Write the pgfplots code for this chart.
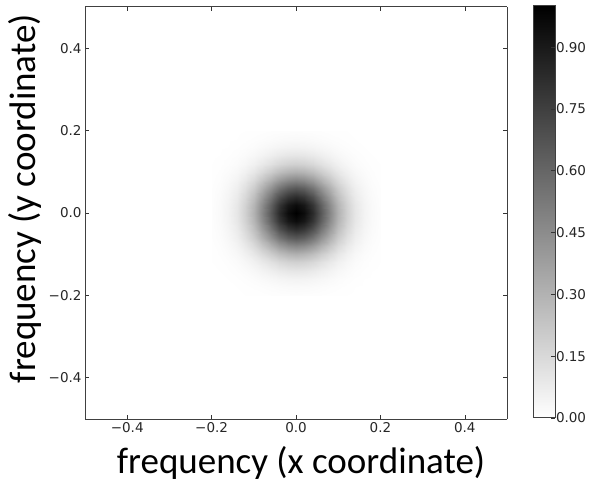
\documentclass[border=0pt]{standalone}
\usepackage{fontspec}
\setmainfont{DejaVu Sans}
\newfontfamily\labelfont{Carlito}
\usepackage{pgfplots}
\pgfplotsset{compat=1.18}
\begin{document}
\begin{tikzpicture}
\useasboundingbox (0,0) rectangle (596bp,482bp);
\begin{axis}[
  at={(85bp,63bp)}, anchor=south west,
  scale only axis, width=422bp, height=412bp,
  view={0}{90},
  xmin=-0.5,xmax=0.5,ymin=-0.5,ymax=0.5,
  xtick={-0.4,-0.2,0,0.2,0.4}, xticklabels={−0.4,−0.2,0.0,0.2,0.4},
  ytick={-0.4,-0.2,0,0.2,0.4}, yticklabels={−0.4,−0.2,0.0,0.2,0.4},
  tick align=inside, major tick length=4bp,
  tick style={black!80, line width=0.6bp},
  axis line style={black!75, line width=1bp},
  ticklabel style={font=\fontsize{13.5bp}{16bp}\selectfont, text=black!85},
  xlabel={frequency (x coordinate)}, ylabel={frequency (y coordinate)},
  label style={font=\labelfont\fontsize{37bp}{44bp}\selectfont},
  xlabel style={at={(ticklabel cs:0.512)}, yshift=-7bp},
  ylabel style={at={(ticklabel cs:0.535)}},
  colormap={grayr}{color=(white) color=(black)},
  point meta min=0, point meta max=1,
  colorbar,
  colorbar shift/.style={},
  colorbar/width=22bp,
  colorbar style={
    at={(parent axis.north east)}, anchor=north west, xshift=26bp, yshift=1bp,
    scale only axis, width=22bp, height=412bp,
    ytick={0,0.15,0.3,0.45,0.6,0.75,0.9},
    yticklabels={0.00,0.15,0.30,0.45,0.60,0.75,0.90},
    tick align=inside, major tick length=4bp,
    ytick pos=right, yticklabel pos=right,
    axis line style={black!75, line width=1bp},
    ticklabel style={font=\fontsize{13.5bp}{16bp}\selectfont, text=black!85},
    yticklabel style={xshift=-2.5bp},
  },
]
\addplot3[surf, shader=interp, mesh/cols=21, mesh/rows=21] coordinates {
(-0.2,-0.2,0) (-0.18,-0.2,0) (-0.16,-0.2,0) (-0.14,-0.2,0.001) (-0.12,-0.2,0.002) (-0.1,-0.2,0.003) (-0.08,-0.2,0.004) (-0.06,-0.2,0.006) (-0.04,-0.2,0.007) (-0.02,-0.2,0.008) (0,-0.2,0.009) (0.02,-0.2,0.008) (0.04,-0.2,0.007) (0.06,-0.2,0.006) (0.08,-0.2,0.004) (0.1,-0.2,0.003) (0.12,-0.2,0.002) (0.14,-0.2,0.001) (0.16,-0.2,0) (0.18,-0.2,0) (0.2,-0.2,0)
(-0.2,-0.18,0) (-0.18,-0.18,0) (-0.16,-0.18,0.001) (-0.14,-0.18,0.002) (-0.12,-0.18,0.004) (-0.1,-0.18,0.007) (-0.08,-0.18,0.010) (-0.06,-0.18,0.014) (-0.04,-0.18,0.018) (-0.02,-0.18,0.021) (0,-0.18,0.022) (0.02,-0.18,0.021) (0.04,-0.18,0.018) (0.06,-0.18,0.014) (0.08,-0.18,0.010) (0.1,-0.18,0.007) (0.12,-0.18,0.004) (0.14,-0.18,0.002) (0.16,-0.18,0.001) (0.18,-0.18,0) (0.2,-0.18,0)
(-0.2,-0.16,0) (-0.18,-0.16,0.001) (-0.16,-0.16,0.002) (-0.14,-0.16,0.005) (-0.12,-0.16,0.009) (-0.1,-0.16,0.015) (-0.08,-0.16,0.023) (-0.06,-0.16,0.032) (-0.04,-0.16,0.040) (-0.02,-0.16,0.046) (0,-0.16,0.048) (0.02,-0.16,0.046) (0.04,-0.16,0.040) (0.06,-0.16,0.032) (0.08,-0.16,0.023) (0.1,-0.16,0.015) (0.12,-0.16,0.009) (0.14,-0.16,0.005) (0.16,-0.16,0.002) (0.18,-0.16,0.001) (0.2,-0.16,0)
(-0.2,-0.14,0.001) (-0.18,-0.14,0.002) (-0.16,-0.14,0.005) (-0.14,-0.14,0.010) (-0.12,-0.14,0.018) (-0.1,-0.14,0.030) (-0.08,-0.14,0.046) (-0.06,-0.14,0.064) (-0.04,-0.14,0.081) (-0.02,-0.14,0.094) (0,-0.14,0.098) (0.02,-0.14,0.094) (0.04,-0.14,0.081) (0.06,-0.14,0.064) (0.08,-0.14,0.046) (0.1,-0.14,0.030) (0.12,-0.14,0.018) (0.14,-0.14,0.010) (0.16,-0.14,0.005) (0.18,-0.14,0.002) (0.2,-0.14,0.001)
(-0.2,-0.12,0.002) (-0.18,-0.12,0.004) (-0.16,-0.12,0.009) (-0.14,-0.12,0.018) (-0.12,-0.12,0.033) (-0.1,-0.12,0.056) (-0.08,-0.12,0.085) (-0.06,-0.12,0.119) (-0.04,-0.12,0.151) (-0.02,-0.12,0.174) (0,-0.12,0.182) (0.02,-0.12,0.174) (0.04,-0.12,0.151) (0.06,-0.12,0.119) (0.08,-0.12,0.085) (0.1,-0.12,0.056) (0.12,-0.12,0.033) (0.14,-0.12,0.018) (0.16,-0.12,0.009) (0.18,-0.12,0.004) (0.2,-0.12,0.002)
(-0.2,-0.1,0.003) (-0.18,-0.1,0.007) (-0.16,-0.1,0.015) (-0.14,-0.1,0.030) (-0.12,-0.1,0.056) (-0.1,-0.1,0.094) (-0.08,-0.1,0.144) (-0.06,-0.1,0.200) (-0.04,-0.1,0.253) (-0.02,-0.1,0.292) (0,-0.1,0.306) (0.02,-0.1,0.292) (0.04,-0.1,0.253) (0.06,-0.1,0.200) (0.08,-0.1,0.144) (0.1,-0.1,0.094) (0.12,-0.1,0.056) (0.14,-0.1,0.030) (0.16,-0.1,0.015) (0.18,-0.1,0.007) (0.2,-0.1,0.003)
(-0.2,-0.08,0.004) (-0.18,-0.08,0.010) (-0.16,-0.08,0.023) (-0.14,-0.08,0.046) (-0.12,-0.08,0.085) (-0.1,-0.08,0.144) (-0.08,-0.08,0.220) (-0.06,-0.08,0.306) (-0.04,-0.08,0.388) (-0.02,-0.08,0.447) (0,-0.08,0.469) (0.02,-0.08,0.447) (0.04,-0.08,0.388) (0.06,-0.08,0.306) (0.08,-0.08,0.220) (0.1,-0.08,0.144) (0.12,-0.08,0.085) (0.14,-0.08,0.046) (0.16,-0.08,0.023) (0.18,-0.08,0.010) (0.2,-0.08,0.004)
(-0.2,-0.06,0.006) (-0.18,-0.06,0.014) (-0.16,-0.06,0.032) (-0.14,-0.06,0.064) (-0.12,-0.06,0.119) (-0.1,-0.06,0.200) (-0.08,-0.06,0.306) (-0.06,-0.06,0.427) (-0.04,-0.06,0.540) (-0.02,-0.06,0.623) (0,-0.06,0.653) (0.02,-0.06,0.623) (0.04,-0.06,0.540) (0.06,-0.06,0.427) (0.08,-0.06,0.306) (0.1,-0.06,0.200) (0.12,-0.06,0.119) (0.14,-0.06,0.064) (0.16,-0.06,0.032) (0.18,-0.06,0.014) (0.2,-0.06,0.006)
(-0.2,-0.04,0.007) (-0.18,-0.04,0.018) (-0.16,-0.04,0.040) (-0.14,-0.04,0.081) (-0.12,-0.04,0.151) (-0.1,-0.04,0.253) (-0.08,-0.04,0.388) (-0.06,-0.04,0.540) (-0.04,-0.04,0.685) (-0.02,-0.04,0.789) (0,-0.04,0.828) (0.02,-0.04,0.789) (0.04,-0.04,0.685) (0.06,-0.04,0.540) (0.08,-0.04,0.388) (0.1,-0.04,0.253) (0.12,-0.04,0.151) (0.14,-0.04,0.081) (0.16,-0.04,0.040) (0.18,-0.04,0.018) (0.2,-0.04,0.007)
(-0.2,-0.02,0.008) (-0.18,-0.02,0.021) (-0.16,-0.02,0.046) (-0.14,-0.02,0.094) (-0.12,-0.02,0.174) (-0.1,-0.02,0.292) (-0.08,-0.02,0.447) (-0.06,-0.02,0.623) (-0.04,-0.02,0.789) (-0.02,-0.02,0.910) (0,-0.02,0.954) (0.02,-0.02,0.910) (0.04,-0.02,0.789) (0.06,-0.02,0.623) (0.08,-0.02,0.447) (0.1,-0.02,0.292) (0.12,-0.02,0.174) (0.14,-0.02,0.094) (0.16,-0.02,0.046) (0.18,-0.02,0.021) (0.2,-0.02,0.008)
(-0.2,0,0.009) (-0.18,0,0.022) (-0.16,0,0.048) (-0.14,0,0.098) (-0.12,0,0.182) (-0.1,0,0.306) (-0.08,0,0.469) (-0.06,0,0.653) (-0.04,0,0.828) (-0.02,0,0.954) (0,0,1.000) (0.02,0,0.954) (0.04,0,0.828) (0.06,0,0.653) (0.08,0,0.469) (0.1,0,0.306) (0.12,0,0.182) (0.14,0,0.098) (0.16,0,0.048) (0.18,0,0.022) (0.2,0,0.009)
(-0.2,0.02,0.008) (-0.18,0.02,0.021) (-0.16,0.02,0.046) (-0.14,0.02,0.094) (-0.12,0.02,0.174) (-0.1,0.02,0.292) (-0.08,0.02,0.447) (-0.06,0.02,0.623) (-0.04,0.02,0.789) (-0.02,0.02,0.910) (0,0.02,0.954) (0.02,0.02,0.910) (0.04,0.02,0.789) (0.06,0.02,0.623) (0.08,0.02,0.447) (0.1,0.02,0.292) (0.12,0.02,0.174) (0.14,0.02,0.094) (0.16,0.02,0.046) (0.18,0.02,0.021) (0.2,0.02,0.008)
(-0.2,0.04,0.007) (-0.18,0.04,0.018) (-0.16,0.04,0.040) (-0.14,0.04,0.081) (-0.12,0.04,0.151) (-0.1,0.04,0.253) (-0.08,0.04,0.388) (-0.06,0.04,0.540) (-0.04,0.04,0.685) (-0.02,0.04,0.789) (0,0.04,0.828) (0.02,0.04,0.789) (0.04,0.04,0.685) (0.06,0.04,0.540) (0.08,0.04,0.388) (0.1,0.04,0.253) (0.12,0.04,0.151) (0.14,0.04,0.081) (0.16,0.04,0.040) (0.18,0.04,0.018) (0.2,0.04,0.007)
(-0.2,0.06,0.006) (-0.18,0.06,0.014) (-0.16,0.06,0.032) (-0.14,0.06,0.064) (-0.12,0.06,0.119) (-0.1,0.06,0.200) (-0.08,0.06,0.306) (-0.06,0.06,0.427) (-0.04,0.06,0.540) (-0.02,0.06,0.623) (0,0.06,0.653) (0.02,0.06,0.623) (0.04,0.06,0.540) (0.06,0.06,0.427) (0.08,0.06,0.306) (0.1,0.06,0.200) (0.12,0.06,0.119) (0.14,0.06,0.064) (0.16,0.06,0.032) (0.18,0.06,0.014) (0.2,0.06,0.006)
(-0.2,0.08,0.004) (-0.18,0.08,0.010) (-0.16,0.08,0.023) (-0.14,0.08,0.046) (-0.12,0.08,0.085) (-0.1,0.08,0.144) (-0.08,0.08,0.220) (-0.06,0.08,0.306) (-0.04,0.08,0.388) (-0.02,0.08,0.447) (0,0.08,0.469) (0.02,0.08,0.447) (0.04,0.08,0.388) (0.06,0.08,0.306) (0.08,0.08,0.220) (0.1,0.08,0.144) (0.12,0.08,0.085) (0.14,0.08,0.046) (0.16,0.08,0.023) (0.18,0.08,0.010) (0.2,0.08,0.004)
(-0.2,0.1,0.003) (-0.18,0.1,0.007) (-0.16,0.1,0.015) (-0.14,0.1,0.030) (-0.12,0.1,0.056) (-0.1,0.1,0.094) (-0.08,0.1,0.144) (-0.06,0.1,0.200) (-0.04,0.1,0.253) (-0.02,0.1,0.292) (0,0.1,0.306) (0.02,0.1,0.292) (0.04,0.1,0.253) (0.06,0.1,0.200) (0.08,0.1,0.144) (0.1,0.1,0.094) (0.12,0.1,0.056) (0.14,0.1,0.030) (0.16,0.1,0.015) (0.18,0.1,0.007) (0.2,0.1,0.003)
(-0.2,0.12,0.002) (-0.18,0.12,0.004) (-0.16,0.12,0.009) (-0.14,0.12,0.018) (-0.12,0.12,0.033) (-0.1,0.12,0.056) (-0.08,0.12,0.085) (-0.06,0.12,0.119) (-0.04,0.12,0.151) (-0.02,0.12,0.174) (0,0.12,0.182) (0.02,0.12,0.174) (0.04,0.12,0.151) (0.06,0.12,0.119) (0.08,0.12,0.085) (0.1,0.12,0.056) (0.12,0.12,0.033) (0.14,0.12,0.018) (0.16,0.12,0.009) (0.18,0.12,0.004) (0.2,0.12,0.002)
(-0.2,0.14,0.001) (-0.18,0.14,0.002) (-0.16,0.14,0.005) (-0.14,0.14,0.010) (-0.12,0.14,0.018) (-0.1,0.14,0.030) (-0.08,0.14,0.046) (-0.06,0.14,0.064) (-0.04,0.14,0.081) (-0.02,0.14,0.094) (0,0.14,0.098) (0.02,0.14,0.094) (0.04,0.14,0.081) (0.06,0.14,0.064) (0.08,0.14,0.046) (0.1,0.14,0.030) (0.12,0.14,0.018) (0.14,0.14,0.010) (0.16,0.14,0.005) (0.18,0.14,0.002) (0.2,0.14,0.001)
(-0.2,0.16,0) (-0.18,0.16,0.001) (-0.16,0.16,0.002) (-0.14,0.16,0.005) (-0.12,0.16,0.009) (-0.1,0.16,0.015) (-0.08,0.16,0.023) (-0.06,0.16,0.032) (-0.04,0.16,0.040) (-0.02,0.16,0.046) (0,0.16,0.048) (0.02,0.16,0.046) (0.04,0.16,0.040) (0.06,0.16,0.032) (0.08,0.16,0.023) (0.1,0.16,0.015) (0.12,0.16,0.009) (0.14,0.16,0.005) (0.16,0.16,0.002) (0.18,0.16,0.001) (0.2,0.16,0)
(-0.2,0.18,0) (-0.18,0.18,0) (-0.16,0.18,0.001) (-0.14,0.18,0.002) (-0.12,0.18,0.004) (-0.1,0.18,0.007) (-0.08,0.18,0.010) (-0.06,0.18,0.014) (-0.04,0.18,0.018) (-0.02,0.18,0.021) (0,0.18,0.022) (0.02,0.18,0.021) (0.04,0.18,0.018) (0.06,0.18,0.014) (0.08,0.18,0.010) (0.1,0.18,0.007) (0.12,0.18,0.004) (0.14,0.18,0.002) (0.16,0.18,0.001) (0.18,0.18,0) (0.2,0.18,0)
(-0.2,0.2,0) (-0.18,0.2,0) (-0.16,0.2,0) (-0.14,0.2,0.001) (-0.12,0.2,0.002) (-0.1,0.2,0.003) (-0.08,0.2,0.004) (-0.06,0.2,0.006) (-0.04,0.2,0.007) (-0.02,0.2,0.008) (0,0.2,0.009) (0.02,0.2,0.008) (0.04,0.2,0.007) (0.06,0.2,0.006) (0.08,0.2,0.004) (0.1,0.2,0.003) (0.12,0.2,0.002) (0.14,0.2,0.001) (0.16,0.2,0) (0.18,0.2,0) (0.2,0.2,0)
};
\end{axis}
\end{tikzpicture}
\end{document}
